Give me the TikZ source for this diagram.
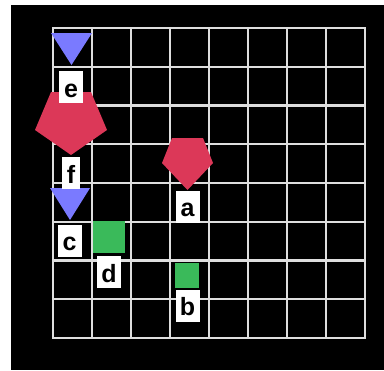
\documentclass[tikz,border=0pt]{standalone}
\usepackage{fontspec}
\setmainfont{Liberation Sans}
\usepackage{tikz}
\usepackage{xcolor}
\definecolor{tokred}{RGB}{220,56,88}
\definecolor{tokblue}{RGB}{122,122,255}
\definecolor{tokgreen}{RGB}{58,186,90}
\definecolor{gridgray}{RGB}{222,222,222}

\begin{document}
\begin{tikzpicture}[x=0.5pt,y=-0.5pt,
  gridline/.style={gridgray,line width=1.1pt,line cap=rect},
  lbl/.style={fill=white,inner sep=0pt,minimum width=12pt,text height=13pt,text depth=3pt,font=\fontsize{12.5}{14}\selectfont\bfseries}]
\useasboundingbox (0,0) rectangle (384,370);
\fill[white] (0,0) rectangle (384,370);
\fill[black] (11,5) rectangle (384,370);
\foreach \i in {0,...,8} \draw[gridline] (53+39*\i,28) -- (53+39*\i,338);
\foreach \j in {0,...,8} \draw[gridline] (53,28+38.75*\j) -- (365,28+38.75*\j);
\fill[tokred] (51,92) -- (91,92) -- (107,130) -- (71,155) -- (35,130) -- cycle;
\fill[tokred] (172,138) -- (203,138) -- (213,163) -- (187.5,190) -- (162,163) -- cycle;
\fill[tokblue] (51,33) -- (92,33) -- (71.5,65) -- cycle;
\fill[tokblue] (50,188) -- (90,188) -- (70,220) -- cycle;
\fill[tokgreen] (93,221) rectangle (125,253);
\fill[tokgreen] (175,263) rectangle (199,288);
\node[lbl] (e) at (71,87) {e};
\node[lbl,minimum width=9pt] (f) at (71,173) {f};
\node[lbl] (c) at (69.5,240.5) {c};
\node[lbl] (d) at (109,272) {d};
\node[lbl] (a) at (187.5,206.5) {a};
\node[lbl] (b) at (187.5,305.5) {b};
\end{tikzpicture}
\end{document}
